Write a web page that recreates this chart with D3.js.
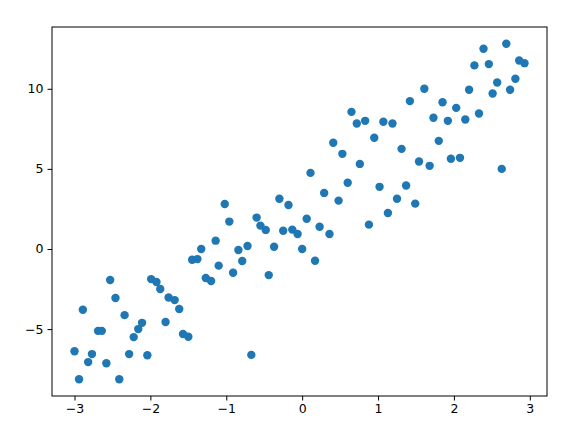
<!DOCTYPE html>
<html>
<head>
<meta charset="utf-8">
<script src="https://cdn.jsdelivr.net/npm/d3@7"></script>
<style>
  body { margin: 0; background: #fff; }
  text { font-family: "DejaVu Sans", sans-serif; }
</style>
</head>
<body>
<div id="chart"></div>
<script>
const xs = [-3.00, -2.89, -2.94, -2.77, -2.82, -2.69, -2.64, -2.58, -2.53, -2.46,
  -2.34, -2.41, -2.28, -2.22, -2.16, -2.11, -2.04, -1.99, -1.92, -1.87,
  -1.80, -1.76, -1.68, -1.62, -1.57, -1.50, -1.45, -1.38, -1.33, -1.27,
  -1.20, -1.14, -1.10, -1.02, -0.96, -0.91, -0.84, -0.79, -0.72, -0.67,
  -0.60, -0.55, -0.48, -0.44, -0.37, -0.30, -0.25, -0.18, -0.13, -0.06,
  0.00, 0.06, 0.17, 0.11, 0.23, 0.29, 0.36, 0.41, 0.48, 0.53,
  0.60, 0.65, 0.72, 0.76, 0.83, 0.88, 0.95, 1.02, 1.07, 1.13,
  1.19, 1.25, 1.31, 1.37, 1.42, 1.49, 1.54, 1.61, 1.68, 1.73,
  1.80, 1.85, 1.92, 1.96, 2.03, 2.08, 2.15, 2.20, 2.27, 2.33,
  2.39, 2.46, 2.51, 2.57, 2.63, 2.69, 2.74, 2.81, 2.86, 2.93]
const ys = [-6.38, -3.79, -8.13, -6.56, -7.06, -5.11, -5.11, -7.13, -1.94, -3.06,
  -4.13, -8.13, -6.56, -5.50, -5.00, -4.61, -6.63, -1.88, -2.06, -2.50,
  -4.56, -3.03, -3.19, -3.75, -5.31, -5.48, -0.67, -0.63, 0.00, -1.81,
  -2.00, 0.52, -1.04, 2.81, 1.71, -1.48, -0.06, -0.75, 0.19, -6.61,
  1.96, 1.46, 1.19, -1.63, 0.14, 3.14, 1.14, 2.75, 1.21, 0.94,
  0.00, 1.89, -0.73, 4.75, 1.39, 3.50, 0.94, 6.63, 3.02, 5.94,
  4.13, 8.56, 7.83, 5.31, 8.00, 1.52, 6.94, 3.88, 7.94, 2.25,
  7.83, 3.14, 6.25, 3.96, 9.23, 2.83, 5.46, 10.00, 5.19, 8.19,
  6.75, 9.16, 8.00, 5.63, 8.81, 5.69, 8.08, 9.94, 11.46, 8.46,
  12.50, 11.54, 9.71, 10.39, 5.00, 12.81, 9.94, 10.63, 11.77, 11.60]
const xTicks = [-3, -2, -1, 0, 1, 2, 3]
const yTicks = [-5, 0, 5, 10]

const width = 585, height = 433
const margin = {top: 27, right: 38, bottom: 37, left: 52}

const points = xs.map((x, i) => ({x, y: ys[i]}))

function padded(ext) {
  const pad = (ext[1] - ext[0]) * 0.05
  return [ext[0] - pad, ext[1] + pad]
}

const x = d3.scaleLinear()
  .domain(padded(d3.extent(xs)))
  .range([margin.left, width - margin.right])
const y = d3.scaleLinear()
  .domain(padded(d3.extent(ys)))
  .range([height - margin.bottom, margin.top])

const fmt = d => (d < 0 ? "\u2212" + Math.abs(d) : String(d))

const svg = d3.select("#chart").append("svg")
  .attr("width", width)
  .attr("height", height)

svg.append("g")
  .selectAll("circle")
  .data(points)
  .join("circle")
    .attr("cx", d => x(d.x))
    .attr("cy", d => y(d.y))
    .attr("r", 4.2)
    .attr("fill", "#1f77b4")

const xAxis = svg.append("g")
  .attr("transform", `translate(0,${height - margin.bottom})`)
  .call(d3.axisBottom(x).tickValues(xTicks).tickFormat(fmt).tickSize(4.5).tickSizeOuter(0).tickPadding(4))
const yAxis = svg.append("g")
  .attr("transform", `translate(${margin.left},0)`)
  .call(d3.axisLeft(y).tickValues(yTicks).tickFormat(fmt).tickSize(4.5).tickSizeOuter(0).tickPadding(4))

for (const g of [xAxis, yAxis]) {
  g.select(".domain").remove()
  g.selectAll("line").attr("stroke", "#000").attr("stroke-width", 1)
  g.selectAll("text").attr("font-size", 12.5).attr("fill", "#000")
    .attr("font-family", "DejaVu Sans, sans-serif")
}

svg.append("rect")
  .attr("x", margin.left)
  .attr("y", margin.top)
  .attr("width", width - margin.left - margin.right)
  .attr("height", height - margin.top - margin.bottom)
  .attr("fill", "none")
  .attr("stroke", "#000")
  .attr("stroke-width", 1)
</script>
</body>
</html>
